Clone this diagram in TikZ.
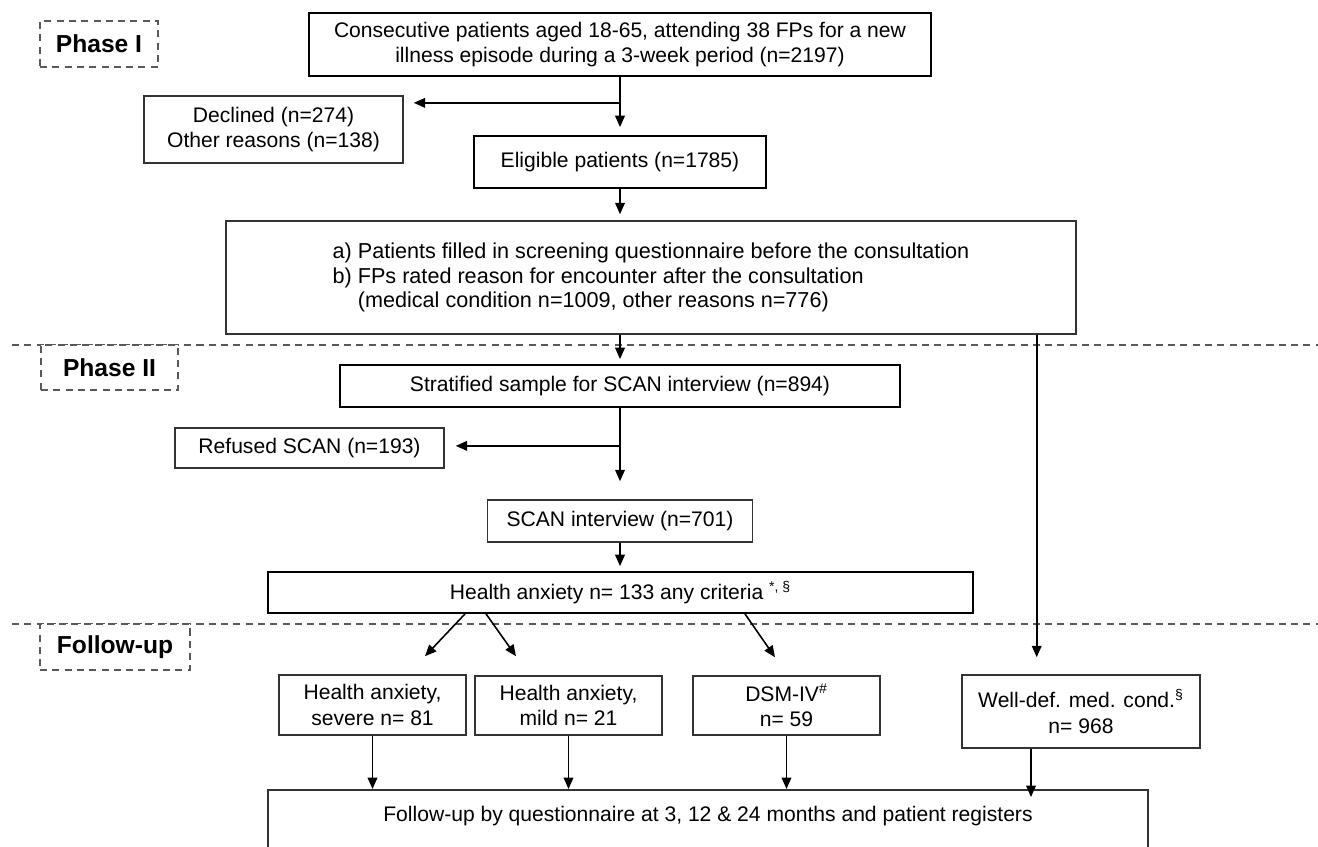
\documentclass[tikz,border=0pt]{standalone}
\usepackage{fontspec}
\setmainfont{Liberation Sans}
\usetikzlibrary{arrows.meta}

\begin{document}
\begin{tikzpicture}[
  x=0.02cm, y=-0.02cm,
  font=\fontsize{12}{14.7}\selectfont,
  box/.style={draw=black!80, line width=0.9pt, align=center, inner sep=0pt},
  mainbox/.style={box, draw=black, line width=1pt},
  phasebox/.style={draw=black!65, line width=0.8pt, dash pattern=on 4pt off 3pt,
                   font=\fontsize{14}{16}\selectfont\bfseries, inner sep=0pt},
  arr/.style={-{Triangle[length=6.5pt,width=5.5pt]}, line width=0.9pt},
  sepline/.style={draw=black!65, line width=0.8pt, dash pattern=on 4pt off 3pt}
]
\useasboundingbox (0,0) rectangle (1318,846);
% ----- phase separators -----
\draw[sepline] (12,345) -- (1318,345);
\draw[sepline] (12,624) -- (1318,624);
\node[phasebox, minimum width=2.36cm, minimum height=0.92cm, fill=white] (phaseone) at (99,44) {Phase I};
\node[phasebox, minimum width=2.74cm, minimum height=0.9cm, fill=white] (phasetwo) at (109.5,367.5) {Phase II};
\node[phasebox, minimum width=3.0cm, minimum height=0.92cm, fill=white] (phasefup) at (115,647) {Follow-up};
% ----- phase I -----
\node[mainbox, minimum width=12.44cm, minimum height=1.26cm] (recruit) at (620,44.5)
  {Consecutive patients aged 18-65, attending 38 FPs for a new\\illness episode during a 3-week period (n=2197)};
\node[box, minimum width=5.18cm, minimum height=1.34cm] (declined) at (273.5,129.5)
  {Declined (n=274)\\Other reasons (n=138)};
\node[mainbox, minimum width=5.84cm, minimum height=1.04cm] (eligible) at (620,162)
  {Eligible patients (n=1785)};
\node[box, align=left, minimum width=17cm, minimum height=2.26cm,
      font=\fontsize{12.3}{13.8}\selectfont] (screen) at (651,277.5)
  {a) Patients filled in screening questionnaire before the consultation\\
   b) FPs rated reason for encounter after the consultation\\
   \hphantom{b) }(medical condition n=1009, other reasons n=776)};
\coordinate (cut1) at ([yshift=-0.52cm]recruit.south);
\draw[arr, shorten >=0.16cm] (recruit.south) -- (eligible.north);
\draw[arr, shorten >=0.2cm] (cut1) -- (cut1 -| declined.east);
\draw[arr, shorten >=0.12cm] (eligible.south) -- (eligible.south |- screen.north);
% ----- phase II -----
\node[mainbox, minimum width=11.2cm, minimum height=0.84cm] (strat) at (620,386)
  {Stratified sample for SCAN interview (n=894)};
\node[box, minimum width=5.38cm, minimum height=0.8cm] (refused) at (309.5,448)
  {Refused SCAN (n=193)};
\node[box, minimum width=5.3cm, minimum height=0.84cm] (scan) at (620,521)
  {SCAN interview (n=701)};
\node[mainbox, minimum width=14.1cm, minimum height=0.82cm] (anxall) at (620.5,592.5)
  {Health anxiety n= 133 any criteria \textsuperscript{*, \S}};
\coordinate (cut2) at ([yshift=-0.76cm]strat.south);
\draw[arr, shorten >=0.1cm] (strat.north |- screen.south) -- (strat.north);
\draw[arr, shorten >=0.36cm] (strat.south) -- (scan.north);
\draw[arr, shorten >=0.22cm] (cut2) -- (cut2 -| refused.east);
\draw[arr, shorten >=0.1cm] (scan.south) -- (scan.south |- anxall.north);
% ----- follow-up -----
\node[box, minimum width=3.74cm, minimum height=1.2cm] (severe) at (372.5,705)
  {Health anxiety,\\severe n= 81};
\node[box, minimum width=3.74cm, minimum height=1.18cm] (mild) at (568.5,705.5)
  {Health anxiety,\\mild n= 21};
\node[box, minimum width=3.74cm, minimum height=1.18cm] (dsm) at (786.5,705.5)
  {DSM-IV\textsuperscript{\#}\\n= 59};
\node[box, minimum width=4.76cm, minimum height=1.46cm] (welldef) at (1081,711.5)
  {Well-def. med. cond.\textsuperscript{\S}\\n= 968};
\node[box, anchor=north, minimum width=17.6cm, text height=0.64cm, text depth=1.2cm] (fup) at (708,789)
  {Follow-up by questionnaire at 3, 12 \& 24 months and patient registers};
\draw[arr] ([xshift=-3.11cm]anxall.south) -- ([xshift=1.05cm, yshift=0.36cm]severe.north);
\draw[arr] ([xshift=-2.69cm]anxall.south) -- ([xshift=-1.05cm, yshift=0.38cm]mild.north);
\draw[arr] ([xshift=2.49cm]anxall.south) -- ([xshift=-0.23cm, yshift=0.36cm]dsm.north);
\draw[arr, shorten >=0.34cm] ([xshift=-0.8cm]screen.south east) -- ([xshift=-0.8cm]screen.south east |- welldef.north);
\foreach \b in {severe, mild, dsm}{\draw[arr] (\b.south) -- (\b.south |- fup.north);}
\draw[arr, shorten >=-0.16cm] ([xshift=-1cm]welldef.south) -- ([xshift=-1cm]welldef.south |- fup.north);
\end{tikzpicture}
\end{document}
